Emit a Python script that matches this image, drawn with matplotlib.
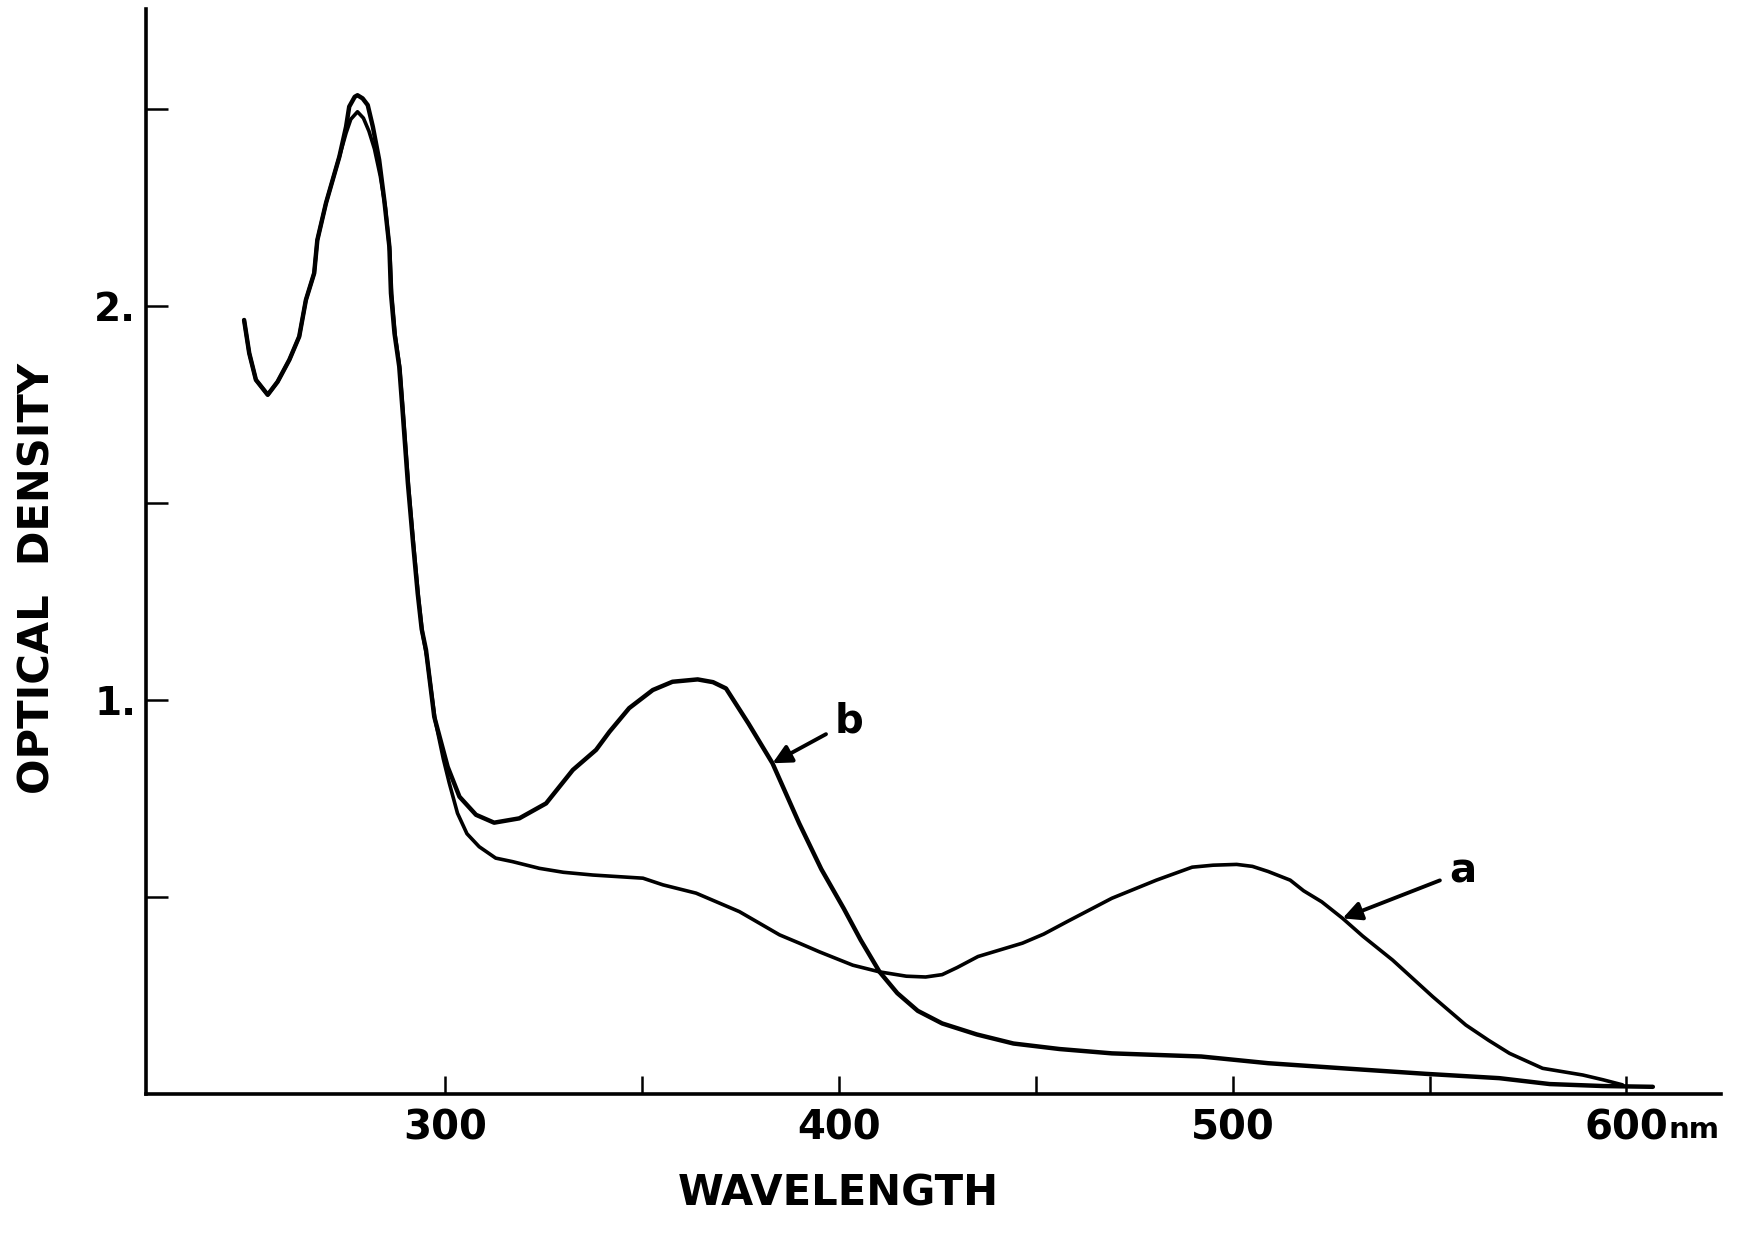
import matplotlib
matplotlib.use('Agg')
from matplotlib import pyplot as plt

# curve a: band at ~500 nm
wl_a = [248.9, 250.2, 251.9, 254.9, 257.4, 260.4, 262.9, 264.6, 266.7, 267.5, 269.7, 271.4,
        273.1, 274.8, 276.0, 277.7, 279.2, 280.6, 282.0, 283.5, 284.8, 285.9, 286.4, 287.3,
        288.5, 289.4, 290.7, 292.0, 293.2, 294.2, 295.3, 297.4, 299.5, 301.0, 303.1, 305.5,
        308.6, 312.8, 317.1, 323.9, 330.0, 337.5, 350.2, 355.3, 363.7, 374.7, 384.9, 389.9,
        395.0, 403.5, 410.3, 417.1, 422.0, 426.2, 430.0, 435.3, 446.6, 452.0, 458.0, 469.3,
        480.6, 489.7, 495.0, 501.0, 505.0, 509.0, 514.6, 518.0, 522.6, 527.9, 533.0, 540.6,
        550.8, 559.2, 565.0, 570.3, 578.7, 588.9, 594.0, 599.0]
od_a = [1.965, 1.881, 1.813, 1.775, 1.808, 1.864, 1.923, 2.016, 2.084, 2.168, 2.262, 2.321,
        2.380, 2.440, 2.475, 2.494, 2.478, 2.445, 2.400, 2.330, 2.250, 2.140, 2.030, 1.925,
        1.840, 1.720, 1.540, 1.390, 1.260, 1.170, 1.110, 0.950, 0.850, 0.789, 0.712, 0.660,
        0.627, 0.598, 0.589, 0.572, 0.562, 0.555, 0.547, 0.530, 0.509, 0.462, 0.403, 0.382,
        0.360, 0.326, 0.309, 0.298, 0.296, 0.302, 0.320, 0.348, 0.382, 0.405, 0.437, 0.496,
        0.542, 0.575, 0.580, 0.582, 0.577, 0.564, 0.542, 0.515, 0.487, 0.445, 0.400, 0.339,
        0.246, 0.174, 0.135, 0.102, 0.064, 0.047, 0.035, 0.022]

# curve b: band at ~365 nm
wl_b = [248.9, 250.2, 251.9, 254.9, 257.4, 260.4, 262.9, 264.6, 266.7, 267.5, 269.7, 271.4,
        273.1, 274.8, 275.6, 277.0, 277.7, 279.0, 280.3, 281.6, 283.2, 284.5, 285.8, 286.2,
        287.1, 288.3, 289.2, 290.5, 291.8, 293.0, 294.0, 295.1, 297.2, 300.6, 303.6, 307.8,
        312.4, 318.8, 325.6, 332.4, 338.3, 341.7, 346.7, 352.7, 357.7, 364.1, 368.0, 371.3,
        377.0, 383.1, 389.9, 395.5, 401.2, 405.5, 410.3, 414.8, 420.0, 426.2, 435.0, 444.3,
        456.0, 469.3, 492.0, 509.0, 528.0, 549.0, 567.7, 580.5, 594.0, 606.7]
od_b = [1.965, 1.881, 1.813, 1.775, 1.808, 1.864, 1.923, 2.016, 2.084, 2.168, 2.262, 2.321,
        2.380, 2.456, 2.507, 2.532, 2.536, 2.528, 2.511, 2.456, 2.372, 2.270, 2.151, 2.033,
        1.931, 1.847, 1.728, 1.550, 1.400, 1.270, 1.180, 1.127, 0.957, 0.830, 0.754, 0.708,
        0.688, 0.699, 0.737, 0.822, 0.873, 0.919, 0.979, 1.025, 1.046, 1.052, 1.045, 1.029,
        0.940, 0.839, 0.686, 0.570, 0.470, 0.390, 0.309, 0.255, 0.210, 0.178, 0.150, 0.127,
        0.113, 0.102, 0.094, 0.077, 0.064, 0.050, 0.039, 0.024, 0.019, 0.017]

x_ticks = [300, 350, 400, 450, 500, 550, 600]
x_labels = ['300', '', '400', '', '500', '', '600']
y_ticks = [0.5, 1.0, 1.5, 2.0, 2.5]
y_labels = ['', '1.', '', '2.', '']

fig = plt.figure(figsize=(17.64, 12.37), dpi=100)
ax = fig.add_axes([0.0828, 0.116, 0.8928, 0.8767])

ax.plot(wl_a, od_a, color='black', linewidth=2.6, solid_capstyle='round', solid_joinstyle='round')
ax.plot(wl_b, od_b, color='black', linewidth=3.2, solid_capstyle='round', solid_joinstyle='round')

ax.set_xlim(224, 624)
ax.set_ylim(0, 2.755)
ax.spines['top'].set_visible(False)
ax.spines['right'].set_visible(False)
ax.spines['left'].set_linewidth(2.6)
ax.spines['bottom'].set_linewidth(2.6)

ax.set_xticks(x_ticks)
ax.set_xticklabels(x_labels, fontsize=29, fontweight='bold', family='DejaVu Sans')
ax.set_yticks(y_ticks)
ax.set_yticklabels(y_labels, fontsize=28, fontweight='bold', family='DejaVu Sans')
ax.tick_params(axis='x', direction='in', length=13, width=1.8, pad=11)
ax.tick_params(axis='y', direction='in', length=16, width=1.8, pad=7)

ax.annotate('nm', xy=(600, 0), xycoords='data', xytext=(30, -32), textcoords='offset points',
            fontsize=21, fontweight='bold', ha='left', va='baseline')

ax.annotate('b', xy=(383.1, 0.839), xytext=(402.6, 0.945),
            fontsize=29, fontweight='bold', ha='center', va='center',
            arrowprops=dict(arrowstyle='-|>', color='black', lw=2.8, mutation_scale=28,
                            shrinkA=5, shrinkB=0))
ax.annotate('a', xy=(527.9, 0.445), xytext=(558.4, 0.564),
            fontsize=29, fontweight='bold', ha='center', va='center',
            arrowprops=dict(arrowstyle='-|>', color='black', lw=2.8, mutation_scale=28,
                            shrinkA=5, shrinkB=0))

fig.text(0.0215, 0.532, 'OPTICAL  DENSITY', rotation=90, ha='center', va='center',
         fontsize=30, fontweight='bold', family=['Liberation Sans Narrow', 'DejaVu Sans'])
fig.text(0.475, 0.018, 'WAVELENGTH', ha='center', va='bottom',
         fontsize=30, fontweight='bold', family='DejaVu Sans')

fig.savefig('out.png', dpi=100, facecolor='white')
